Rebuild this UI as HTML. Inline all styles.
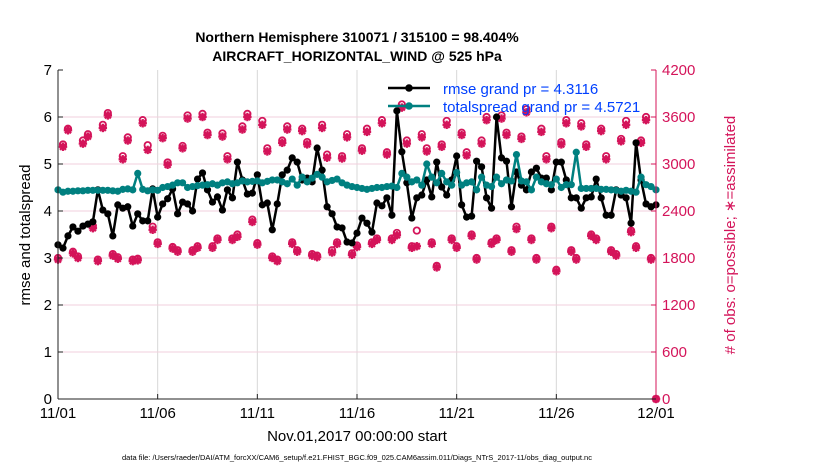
<!DOCTYPE html>
<html><head><meta charset="utf-8">
<style>
body{margin:0;background:#fff;}
svg{display:block;font-family:"Liberation Sans",Arial,sans-serif;}
</style></head>
<body>
<svg id="chart" width="830" height="470" viewBox="0 0 830 470">
<text x="357" y="42" text-anchor="middle" font-size="14" font-weight="bold">Northern Hemisphere 310071 / 315100 = 98.404%</text>
<text x="357" y="61" text-anchor="middle" font-size="14" font-weight="bold">AIRCRAFT_HORIZONTAL_WIND @ 525 hPa</text>
<g id="grid"></g>
<g id="marks"></g>
<g id="axes"></g>
<text transform="translate(30,235) rotate(-90)" text-anchor="middle" font-size="15">rmse and totalspread</text>
<text fill="#d4145a" transform="translate(735,235) rotate(-90)" text-anchor="middle" font-size="15"># of obs: o=possible; ∗=assimilated</text>
<text x="357" y="441" text-anchor="middle" font-size="15">Nov.01,2017 00:00:00 start</text>
<text x="357" y="460" text-anchor="middle" font-size="7.5">data file: /Users/raeder/DAI/ATM_forcXX/CAM6_setup/f.e21.FHIST_BGC.f09_025.CAM6assim.011/Diags_NTrS_2017-11/obs_diag_output.nc</text>
<g id="legend">
<line x1="388" y1="88" x2="430" y2="88" stroke="#000" stroke-width="2.5"/>
<circle cx="409" cy="88" r="3.8" fill="#000"/>
<text x="443" y="94" font-size="15" fill="#0040ff">rmse grand pr = 4.3116</text>
<line x1="388" y1="106" x2="430" y2="106" stroke="#008080" stroke-width="2.5"/>
<circle cx="409" cy="106" r="3.8" fill="#008080"/>
<text x="443" y="112" font-size="15" fill="#0040ff">totalspread grand pr = 4.5721</text>
</g>
</svg>
<script>
const xTickLabels=["11/01","11/06","11/11","11/16","11/21","11/26","12/01"];
const leftTicks=[0,1,2,3,4,5,6,7];
const rightTicks=[0,600,1200,1800,2400,3000,3600,4200];
const rmse=[3.28,3.21,3.47,3.66,3.57,3.68,3.72,3.77,4.45,4.02,3.94,3.47,4.13,4.06,4.09,3.68,3.94,3.79,3.79,4.47,3.87,4.15,4.26,4.47,3.94,4.19,4.15,4.00,4.68,4.81,4.45,4.19,4.30,4.02,4.45,4.28,5.04,4.66,4.36,4.38,4.77,4.13,4.17,3.60,4.15,4.77,4.87,5.13,5.04,4.66,4.70,4.62,5.34,4.87,4.09,3.94,3.66,3.64,3.34,3.32,3.53,3.85,3.74,3.55,4.17,4.11,4.28,3.91,6.13,5.26,4.60,3.85,4.28,4.34,4.66,4.30,5.04,4.51,4.34,4.66,5.17,4.13,3.87,3.89,5.06,4.94,4.28,4.06,6.00,5.13,5.06,4.09,4.83,4.55,4.45,4.83,4.91,4.70,4.70,4.45,5.04,5.04,4.66,4.28,4.28,4.06,4.28,4.30,4.68,4.28,3.91,3.91,4.45,4.34,4.28,3.74,5.45,4.66,4.15,4.09,4.13];
const spread=[4.45,4.40,4.42,4.42,4.43,4.43,4.44,4.44,4.44,4.44,4.44,4.43,4.42,4.46,4.47,4.45,4.80,4.46,4.43,4.45,4.44,4.50,4.52,4.55,4.60,4.60,4.50,4.52,4.54,4.55,4.56,4.58,4.55,4.60,4.62,4.58,4.60,4.64,4.62,4.63,4.64,4.60,4.63,4.66,4.66,4.62,4.58,4.68,4.55,4.72,4.62,4.70,4.78,4.72,4.62,4.65,4.68,4.60,4.55,4.52,4.50,4.48,4.46,4.48,4.50,4.50,4.52,4.53,4.50,4.80,4.72,4.62,4.66,4.55,5.00,4.72,4.60,4.80,4.62,4.55,4.82,4.55,4.60,4.62,4.45,4.72,4.55,4.52,4.72,4.58,4.66,4.64,5.20,4.64,4.62,4.45,4.72,4.62,4.58,4.56,4.68,4.50,4.56,4.56,5.25,4.48,4.48,4.48,4.48,4.46,4.46,4.45,4.44,4.42,4.44,4.42,4.40,4.72,4.56,4.52,4.45];
const possible=[1800,3250,3450,1880,1820,3300,3380,2210,1780,3500,3650,1850,1810,3100,3340,1780,1790,3560,3240,2200,2000,3360,3020,1940,1900,3230,3620,1900,1950,3640,3400,1950,2050,3390,3100,2050,2100,3480,3640,2290,1990,3550,3200,1820,1780,3300,3480,2000,1900,3450,3280,1850,1830,3500,3120,1900,2000,3100,3380,1860,1960,3200,3450,2000,2050,3560,3150,2050,2120,3760,3300,1950,2150,3380,3200,2000,1700,3250,3550,2050,1950,3400,3150,2100,1800,3300,3600,2000,2050,3620,3400,1900,2200,3350,3700,2050,1800,3450,3100,2200,1650,3280,3560,1900,1800,3520,3250,2100,2050,3450,3100,1900,1850,3320,3550,2150,1950,3300,3600,1800,0];
const assimilated=[1780,3220,3430,1860,1800,3260,3350,2180,1760,3460,3620,1830,1790,3060,3300,1760,1770,3520,3180,2160,1980,3330,2990,1920,1880,3200,3580,1880,1930,3600,3370,1930,2030,3350,3060,2030,2070,3440,3600,2260,1970,3500,3160,1800,1760,3270,3440,1980,1880,3420,3250,1830,1810,3460,3080,1870,1980,3070,3340,1840,1940,3170,3410,1980,2030,3520,3120,2030,2090,3720,3260,1930,1950,3340,3160,1980,1680,3220,3500,2030,1930,3370,3110,2080,1780,3260,3560,1980,2030,3580,3370,1880,2170,3320,3660,2030,1780,3410,3060,2180,1630,3250,3520,1880,1780,3480,3220,2080,2030,3420,3060,1880,1830,3290,3500,2130,1930,3270,3560,1780,0];

const NS="http://www.w3.org/2000/svg";
const X0=58,X1=656,Y0=399,Y1=70;
const nDays=30;
function xs(i){return X0+(i/(rmse.length-1))*(X1-X0);}
function xDay(d){return X0+d/nDays*(X1-X0);}
function yl(v){return Y0-v/7*(Y0-Y1);}
function yr(v){return Y0-v/4200*(Y0-Y1);}
function mk(tag,attrs,parent){const e=document.createElementNS(NS,tag);for(const k in attrs)e.setAttribute(k,attrs[k]);parent.appendChild(e);return e;}
const grid=document.getElementById('grid'),marks=document.getElementById('marks'),axes=document.getElementById('axes');
const PINK="#d4145a";
xTickLabels.forEach((t,k)=>{const x=xDay(k*5);
 if(k>0&&k<6){const l=mk('line',{x1:x,y1:Y1,x2:x,y2:Y0,stroke:'#d8d8d8','stroke-width':1},grid);
 
 }
 const tl=mk('line',{x1:x,y1:Y0,x2:x,y2:Y0-5,stroke:'#222'},axes);
 
 
 const tx=mk('text',{x:x,y:Y0+19,'text-anchor':'middle','font-size':15},axes);tx.textContent=t;
 
 
});
rightTicks.forEach(v=>{const y=yr(v);
 if(v>0&&v<4200){const l=mk('line',{x1:X0,y1:y,x2:X1,y2:y,stroke:'#f2cfdc','stroke-width':1},grid);
 
 }
 mk('line',{x1:X1,y1:y,x2:X1-5,y2:y,stroke:PINK},axes);
 const tx=mk('text',{x:X1+6,y:y+5,'font-size':15,fill:PINK},axes);tx.textContent=v;
 
 
});
leftTicks.forEach(v=>{const y=yl(v);
 mk('line',{x1:X0,y1:y,x2:X0+5,y2:y,stroke:'#222'},axes);
 const tx=mk('text',{x:X0-6,y:y+5,'text-anchor':'end','font-size':15},axes);tx.textContent=v;
 
 
});
const la=mk('line',{x1:X0,y1:Y1,x2:X0,y2:Y0,stroke:'#222'},axes);


const ra=mk('line',{x1:X1,y1:Y1,x2:X1,y2:Y0,stroke:PINK},axes);


const ba=mk('line',{x1:X0,y1:Y0,x2:X1,y2:Y0,stroke:'#222'},axes);


possible.forEach((v,i)=>{const c=mk('circle',{cx:xs(i),cy:yr(v),r:3.2,fill:'none',stroke:PINK,'stroke-width':1.8},marks);
 
 });
assimilated.forEach((v,i)=>{const x=xs(i),y=yr(v);const g=mk('g',{stroke:PINK,'stroke-width':2.3},marks);
 
 
 mk('line',{x1:x-4.2,y1:y,x2:x+4.2,y2:y},g);mk('line',{x1:x,y1:y-4.2,x2:x,y2:y+4.2},g);
 mk('line',{x1:x-3,y1:y-3,x2:x+3,y2:y+3},g);mk('line',{x1:x-3,y1:y+3,x2:x+3,y2:y-3},g);});
function series(arr,color,name){
 const p=mk('polyline',{points:arr.map((v,i)=>xs(i)+','+yl(v)).join(' '),fill:'none',stroke:color,'stroke-width':2.5,'stroke-linejoin':'round'},marks);
 
 
 arr.forEach((v,i)=>{const c=mk('circle',{cx:xs(i),cy:yl(v),r:3.6,fill:color},marks);
  
  });
}
series(rmse,'#000','rmse');
series(spread,'#008080','totalspread');
</script>
</body></html>
